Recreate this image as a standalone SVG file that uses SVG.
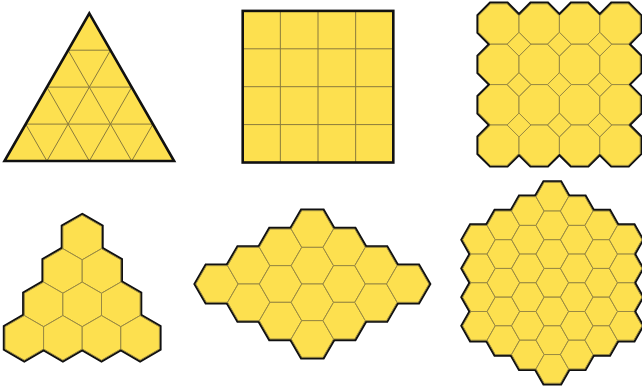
<svg xmlns="http://www.w3.org/2000/svg" xmlns:xlink="http://www.w3.org/1999/xlink" width="642" height="388" viewBox="0 0 642 388">
<style>
.bg{fill:#ffffff}
.fill{fill:#FDE04F;stroke:none}
.thin{fill:none;stroke:#8a7b3c;stroke-width:1}
.outer{fill:none;stroke:#111;stroke-width:2.6;stroke-linejoin:miter}
.under{fill:none;stroke:#111;stroke-width:4.4;stroke-linejoin:miter}
.tile{fill:#FDE04F;stroke:#9a8a42;stroke-width:1}
</style>
<defs>
<path id="oct" d="M11.9,0 L28.5,0 L40.4,11.9 L40.4,28.5 L28.5,40.4 L11.9,40.4 L0,28.5 L0,11.9Z"/>
<path id="dia" d="M0,-11.9 L11.9,0 L0,11.9 L-11.9,0Z"/>
<path id="hexP" d="M0,-22.3 L19.3,-11.15 L19.3,11.15 L0,22.3 L-19.3,11.15 L-19.3,-11.15Z"/>
<path id="hex5" d="M-21.2,0 L-10.6,-18.33 L10.6,-18.33 L21.2,0 L10.6,18.33 L-10.6,18.33Z"/>
<path id="hex6" d="M-16.3,0 L-8.15,-14.35 L8.15,-14.35 L16.3,0 L8.15,14.35 L-8.15,14.35Z"/>
<g id="octSet">
<use href="#oct" x="478.6" y="3.8"/><use href="#oct" x="519" y="3.8"/><use href="#oct" x="559.4" y="3.8"/><use href="#oct" x="599.8" y="3.8"/>
<use href="#oct" x="478.6" y="44.2"/><use href="#oct" x="519" y="44.2"/><use href="#oct" x="559.4" y="44.2"/><use href="#oct" x="599.8" y="44.2"/>
<use href="#oct" x="478.6" y="84.6"/><use href="#oct" x="519" y="84.6"/><use href="#oct" x="559.4" y="84.6"/><use href="#oct" x="599.8" y="84.6"/>
<use href="#oct" x="478.6" y="125"/><use href="#oct" x="519" y="125"/><use href="#oct" x="559.4" y="125"/><use href="#oct" x="599.8" y="125"/>
</g>
<g id="diaSet">
<use href="#dia" x="519" y="44.2"/><use href="#dia" x="559.4" y="44.2"/><use href="#dia" x="599.8" y="44.2"/>
<use href="#dia" x="519" y="84.6"/><use href="#dia" x="559.4" y="84.6"/><use href="#dia" x="599.8" y="84.6"/>
<use href="#dia" x="519" y="125"/><use href="#dia" x="559.4" y="125"/><use href="#dia" x="599.8" y="125"/>
</g>
<g id="triHexSet">
<use href="#hexP" x="82.2" y="237.5"/>
<use href="#hexP" x="62.9" y="270.95"/><use href="#hexP" x="101.5" y="270.95"/>
<use href="#hexP" x="43.6" y="304.4"/><use href="#hexP" x="82.2" y="304.4"/><use href="#hexP" x="120.8" y="304.4"/>
<use href="#hexP" x="24.3" y="337.85"/><use href="#hexP" x="62.9" y="337.85"/><use href="#hexP" x="101.5" y="337.85"/><use href="#hexP" x="140.1" y="337.85"/>
</g>
<g id="rhHexSet">
<use href="#hex5" x="216.95" y="284"/>
<use href="#hex5" x="248.75" y="265.67"/><use href="#hex5" x="248.75" y="302.33"/>
<use href="#hex5" x="280.55" y="247.35"/><use href="#hex5" x="280.55" y="284"/><use href="#hex5" x="280.55" y="320.65"/>
<use href="#hex5" x="312.35" y="229.02"/><use href="#hex5" x="312.35" y="265.67"/><use href="#hex5" x="312.35" y="302.33"/><use href="#hex5" x="312.35" y="338.98"/>
<use href="#hex5" x="344.15" y="247.35"/><use href="#hex5" x="344.15" y="284"/><use href="#hex5" x="344.15" y="320.65"/>
<use href="#hex5" x="375.95" y="265.67"/><use href="#hex5" x="375.95" y="302.33"/>
<use href="#hex5" x="407.75" y="284"/>
</g>
<g id="bigHexSet">
<use href="#hex6" x="478.95" y="239.75"/><use href="#hex6" x="478.95" y="268.45"/><use href="#hex6" x="478.95" y="297.15"/><use href="#hex6" x="478.95" y="325.85"/>
<use href="#hex6" x="503.4" y="225.4"/><use href="#hex6" x="503.4" y="254.1"/><use href="#hex6" x="503.4" y="282.8"/><use href="#hex6" x="503.4" y="311.5"/><use href="#hex6" x="503.4" y="340.2"/>
<use href="#hex6" x="527.85" y="211.05"/><use href="#hex6" x="527.85" y="239.75"/><use href="#hex6" x="527.85" y="268.45"/><use href="#hex6" x="527.85" y="297.15"/><use href="#hex6" x="527.85" y="325.85"/><use href="#hex6" x="527.85" y="354.55"/>
<use href="#hex6" x="552.3" y="196.7"/><use href="#hex6" x="552.3" y="225.4"/><use href="#hex6" x="552.3" y="254.1"/><use href="#hex6" x="552.3" y="282.8"/><use href="#hex6" x="552.3" y="311.5"/><use href="#hex6" x="552.3" y="340.2"/><use href="#hex6" x="552.3" y="368.9"/>
<use href="#hex6" x="576.75" y="211.05"/><use href="#hex6" x="576.75" y="239.75"/><use href="#hex6" x="576.75" y="268.45"/><use href="#hex6" x="576.75" y="297.15"/><use href="#hex6" x="576.75" y="325.85"/><use href="#hex6" x="576.75" y="354.55"/>
<use href="#hex6" x="601.2" y="225.4"/><use href="#hex6" x="601.2" y="254.1"/><use href="#hex6" x="601.2" y="282.8"/><use href="#hex6" x="601.2" y="311.5"/><use href="#hex6" x="601.2" y="340.2"/>
<use href="#hex6" x="625.65" y="239.75"/><use href="#hex6" x="625.65" y="268.45"/><use href="#hex6" x="625.65" y="297.15"/><use href="#hex6" x="625.65" y="325.85"/>
</g>
</defs>
<rect class="bg" x="0" y="0" width="642" height="388"/>

<g id="triangle-tiling">
<polygon class="fill" points="89.3,13.3 174.1,161 4.5,161"/>
<g class="thin">
<line x1="68.1" y1="50.2" x2="110.5" y2="50.2"/>
<line x1="46.9" y1="87.1" x2="131.7" y2="87.1"/>
<line x1="25.7" y1="124.1" x2="152.9" y2="124.1"/>
<line x1="68.1" y1="50.2" x2="131.7" y2="161"/>
<line x1="46.9" y1="87.1" x2="89.3" y2="161"/>
<line x1="25.7" y1="124.1" x2="46.9" y2="161"/>
<line x1="110.5" y1="50.2" x2="46.9" y2="161"/>
<line x1="131.7" y1="87.1" x2="89.3" y2="161"/>
<line x1="152.9" y1="124.1" x2="131.7" y2="161"/>
</g>
<polygon class="outer" points="89.3,13.3 174.1,161 4.5,161"/>
</g>

<g id="square-tiling">
<rect class="fill" x="242.7" y="10.9" width="150.6" height="151.6"/>
<g class="thin">
<line x1="280.35" y1="10.9" x2="280.35" y2="162.5"/>
<line x1="318" y1="10.9" x2="318" y2="162.5"/>
<line x1="355.65" y1="10.9" x2="355.65" y2="162.5"/>
<line x1="242.7" y1="48.8" x2="393.3" y2="48.8"/>
<line x1="242.7" y1="86.7" x2="393.3" y2="86.7"/>
<line x1="242.7" y1="124.6" x2="393.3" y2="124.6"/>
</g>
<rect class="outer" x="242.7" y="10.9" width="150.6" height="151.6"/>
</g>

<g id="octagon-tiling">
<use href="#octSet" class="under"/>
<use href="#octSet" class="tile"/>
<use href="#diaSet" class="tile"/>
</g>

<g id="hex-triangle">
<use href="#triHexSet" class="under"/>
<use href="#triHexSet" class="tile"/>
</g>

<g id="hex-rhombus">
<use href="#rhHexSet" class="under"/>
<use href="#rhHexSet" class="tile"/>
</g>

<g id="hex-hexagon">
<use href="#bigHexSet" class="under"/>
<use href="#bigHexSet" class="tile"/>
</g>
</svg>
